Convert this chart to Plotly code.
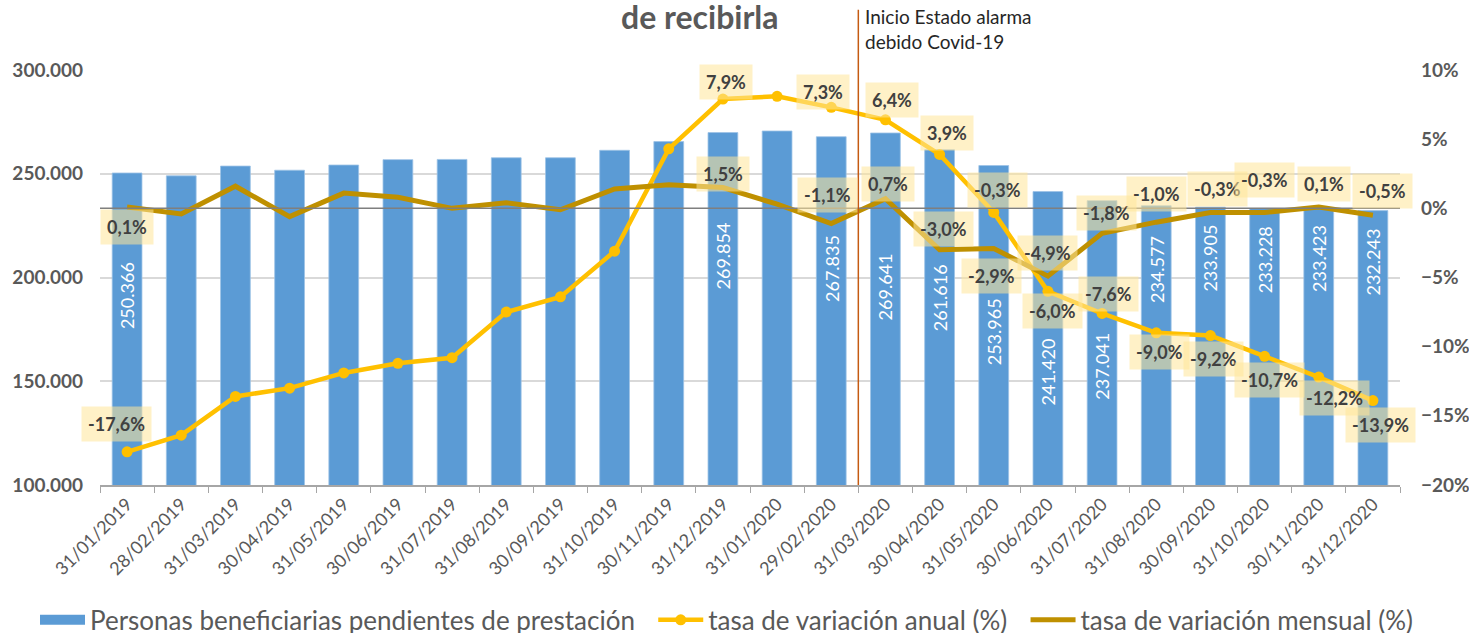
import plotly.graph_objects as go

# ---------------- data ----------------
fechas = ["31/01/2019", "28/02/2019", "31/03/2019", "30/04/2019", "31/05/2019", "30/06/2019",
          "31/07/2019", "31/08/2019", "30/09/2019", "31/10/2019", "30/11/2019", "31/12/2019",
          "31/01/2020", "29/02/2020", "31/03/2020", "30/04/2020", "31/05/2020", "30/06/2020",
          "31/07/2020", "31/08/2020", "30/09/2020", "31/10/2020", "30/11/2020", "31/12/2020"]

personas = [250366, 249000, 253700, 251700, 254200, 256800, 256900, 257700, 257700, 261300,
            265500, 269854, 270600, 267835, 269641, 261616, 253965, 241420, 237041, 234577,
            233905, 233228, 233423, 232243]

tasa_anual = [-17.6, -16.4, -13.6, -13.0, -11.9, -11.2, -10.8, -7.5, -6.4, -3.1, 4.3, 7.9,
              8.1, 7.3, 6.4, 3.9, -0.3, -6.0, -7.6, -9.0, -9.2, -10.7, -12.2, -13.9]

tasa_mensual = [0.1, -0.4, 1.6, -0.6, 1.1, 0.8, 0.0, 0.4, -0.1, 1.4, 1.7, 1.5,
                0.3, -1.1, 0.7, -3.0, -2.9, -4.9, -1.8, -1.0, -0.3, -0.3, 0.1, -0.5]

# indices of points that carry a data label
idx_etiquetas = [0, 11, 13, 14, 15, 16, 17, 18, 19, 20, 21, 22, 23]

nombre_barras = "Personas beneficiarias pendientes de prestación"
nombre_anual = "tasa de variación anual (%)"
nombre_mensual = "tasa de variación mensual (%)"
titulo = "de recibirla"
nota_covid = "Inicio Estado alarma<br>debido Covid-19"

# ---------------- label placement (pixel nudges, styling only) ----------------
desp_barras = {0: 123, 11: 123, 13: 132, 14: 154, 15: 148, 16: 166, 17: 180, 18: 166,
               19: 64, 20: 51, 21: 51, 22: 50, 23: 51}
desp_anual = {0: (-11, 28), 11: (3, 17), 13: (-8, 15), 14: (7, 20), 15: (7, 21), 16: (4, 22),
              17: (5, -20), 18: (6, 19), 19: (3, -19), 20: (3, -23), 21: (5, -24),
              22: (16, -21), 23: (8, -24)}
desp_mensual = {0: (0, -20), 11: (0, 14), 13: (-4, 29), 14: (3, 15), 15: (4, 21), 16: (-2, -28),
                17: (0, 23), 18: (4, 20), 19: (0, 28), 20: (7, 23), 21: (0, 32), 22: (5, 23),
                23: (10, 24)}

FONT = "Lato"
GRIS = "#595959"
AZUL = "#5B9BD5"
ESP = "\u00a0\u00a0"  # small spacing after legend entries


def fmt_miles(v):
    return f"{v:,.0f}".replace(",", ".")


def fmt_pct(v):
    return f"{v:.1f}%".replace(".", ",")


fig = go.Figure()

fig.add_trace(go.Bar(
    x=fechas, y=personas, name=nombre_barras, showlegend=False,
    marker=dict(color=AZUL, line=dict(color="#9DC3E6", width=0.8)),
    yaxis="y",
))
# legend swatch for the bars (wide rectangle like the original)
fig.add_trace(go.Scatter(
    x=[None], y=[None], name=nombre_barras + ESP, mode="lines",
    line=dict(color=AZUL, width=16), yaxis="y",
))

fig.add_trace(go.Scatter(
    x=fechas, y=tasa_anual, name=nombre_anual + ESP, mode="lines+markers",
    line=dict(color="#FFC000", width=4.5),
    marker=dict(color="#FFC000", size=11),
    yaxis="y2",
))

fig.add_trace(go.Scatter(
    x=fechas, y=tasa_mensual, name=nombre_mensual, mode="lines",
    line=dict(color="#BF9000", width=5),
    yaxis="y2",
))

anots = []
for i in idx_etiquetas:
    anots.append(dict(
        x=fechas[i], y=personas[i], xref="x", yref="y",
        text=fmt_miles(personas[i]), textangle=-90, showarrow=False,
        yshift=-desp_barras[i],
        font=dict(family=FONT, size=18, color="white"),
    ))
for i in idx_etiquetas:
    dx, dy = desp_anual[i]
    anots.append(dict(
        x=fechas[i], y=tasa_anual[i], xref="x", yref="y2",
        text=fmt_pct(tasa_anual[i]), showarrow=False, xshift=dx, yshift=dy,
        bgcolor="rgba(255,230,153,0.55)", borderpad=6,
        font=dict(family=FONT, size=18, color="#404040", weight="bold"),
    ))
for i in idx_etiquetas:
    dx, dy = desp_mensual[i]
    anots.append(dict(
        x=fechas[i], y=tasa_mensual[i], xref="x", yref="y2",
        text=fmt_pct(tasa_mensual[i]), showarrow=False, xshift=dx, yshift=dy,
        bgcolor="rgba(255,230,153,0.55)", borderpad=6,
        font=dict(family=FONT, size=18, color="#404040", weight="bold"),
    ))

anots.append(dict(
    x=0.4615, y=1.128, xref="paper", yref="paper", text=titulo, showarrow=False,
    xanchor="center", yanchor="middle",
    font=dict(family=FONT, size=32, color=GRIS, weight="bold"),
))
anots.append(dict(
    x=13.5, y=1.162, xref="x", yref="paper", text=nota_covid, showarrow=False,
    xanchor="left", yanchor="top", align="left", xshift=5,
    font=dict(family=FONT, size=19, color="#262626"),
))

formas = [
    dict(type="line", xref="paper", x0=0, x1=1, yref="y2", y0=0, y1=0,
         line=dict(color="#7F7F7F", width=1.5), layer="above"),
    dict(type="line", xref="x", x0=13.5, x1=13.5, yref="paper", y0=0, y1=1.145,
         line=dict(color="#C55A11", width=1.5), layer="above"),
]

fig.update_layout(
    width=1469, height=665,
    margin=dict(l=100, r=69, t=70, b=180),
    paper_bgcolor="white", plot_bgcolor="white",
    separators=",.",
    bargap=0.45,
    showlegend=True,
    legend=dict(orientation="h", x=-0.05, y=-0.325, xanchor="left", yanchor="middle",
                font=dict(family=FONT, size=26, color=GRIS), traceorder="normal",
                itemwidth=45, bgcolor="rgba(0,0,0,0)"),
    xaxis=dict(type="category", range=[-0.5, 23.5], tickangle=-45,
               tickfont=dict(family=FONT, size=18, color=GRIS),
               showline=True, linecolor="#A6A6A6", linewidth=1.5,
               ticks="outside", tickson="boundaries", ticklen=6, tickcolor="#A6A6A6",
               showgrid=False, automargin=False),
    yaxis=dict(range=[100000, 300000], dtick=50000, tickformat=",.0f",
               tickfont=dict(family=FONT, size=19, color=GRIS, weight="bold"),
               gridcolor="#D9D9D9", gridwidth=1.5, showline=False, zeroline=False,
               ticklabelstandoff=16, automargin=False),
    yaxis2=dict(range=[-20, 10], dtick=5, ticksuffix="%", overlaying="y", side="right",
                tickfont=dict(family=FONT, size=19, color=GRIS, weight="bold"),
                showgrid=False, zeroline=False, showline=False,
                ticklabelstandoff=20, automargin=False),
    annotations=anots,
    shapes=formas,
)

fig.write_html(
    "out.html",
    config={"displayModeBar": False},
    post_script="document.body.style.margin='0';document.body.style.overflow='hidden';",
)
